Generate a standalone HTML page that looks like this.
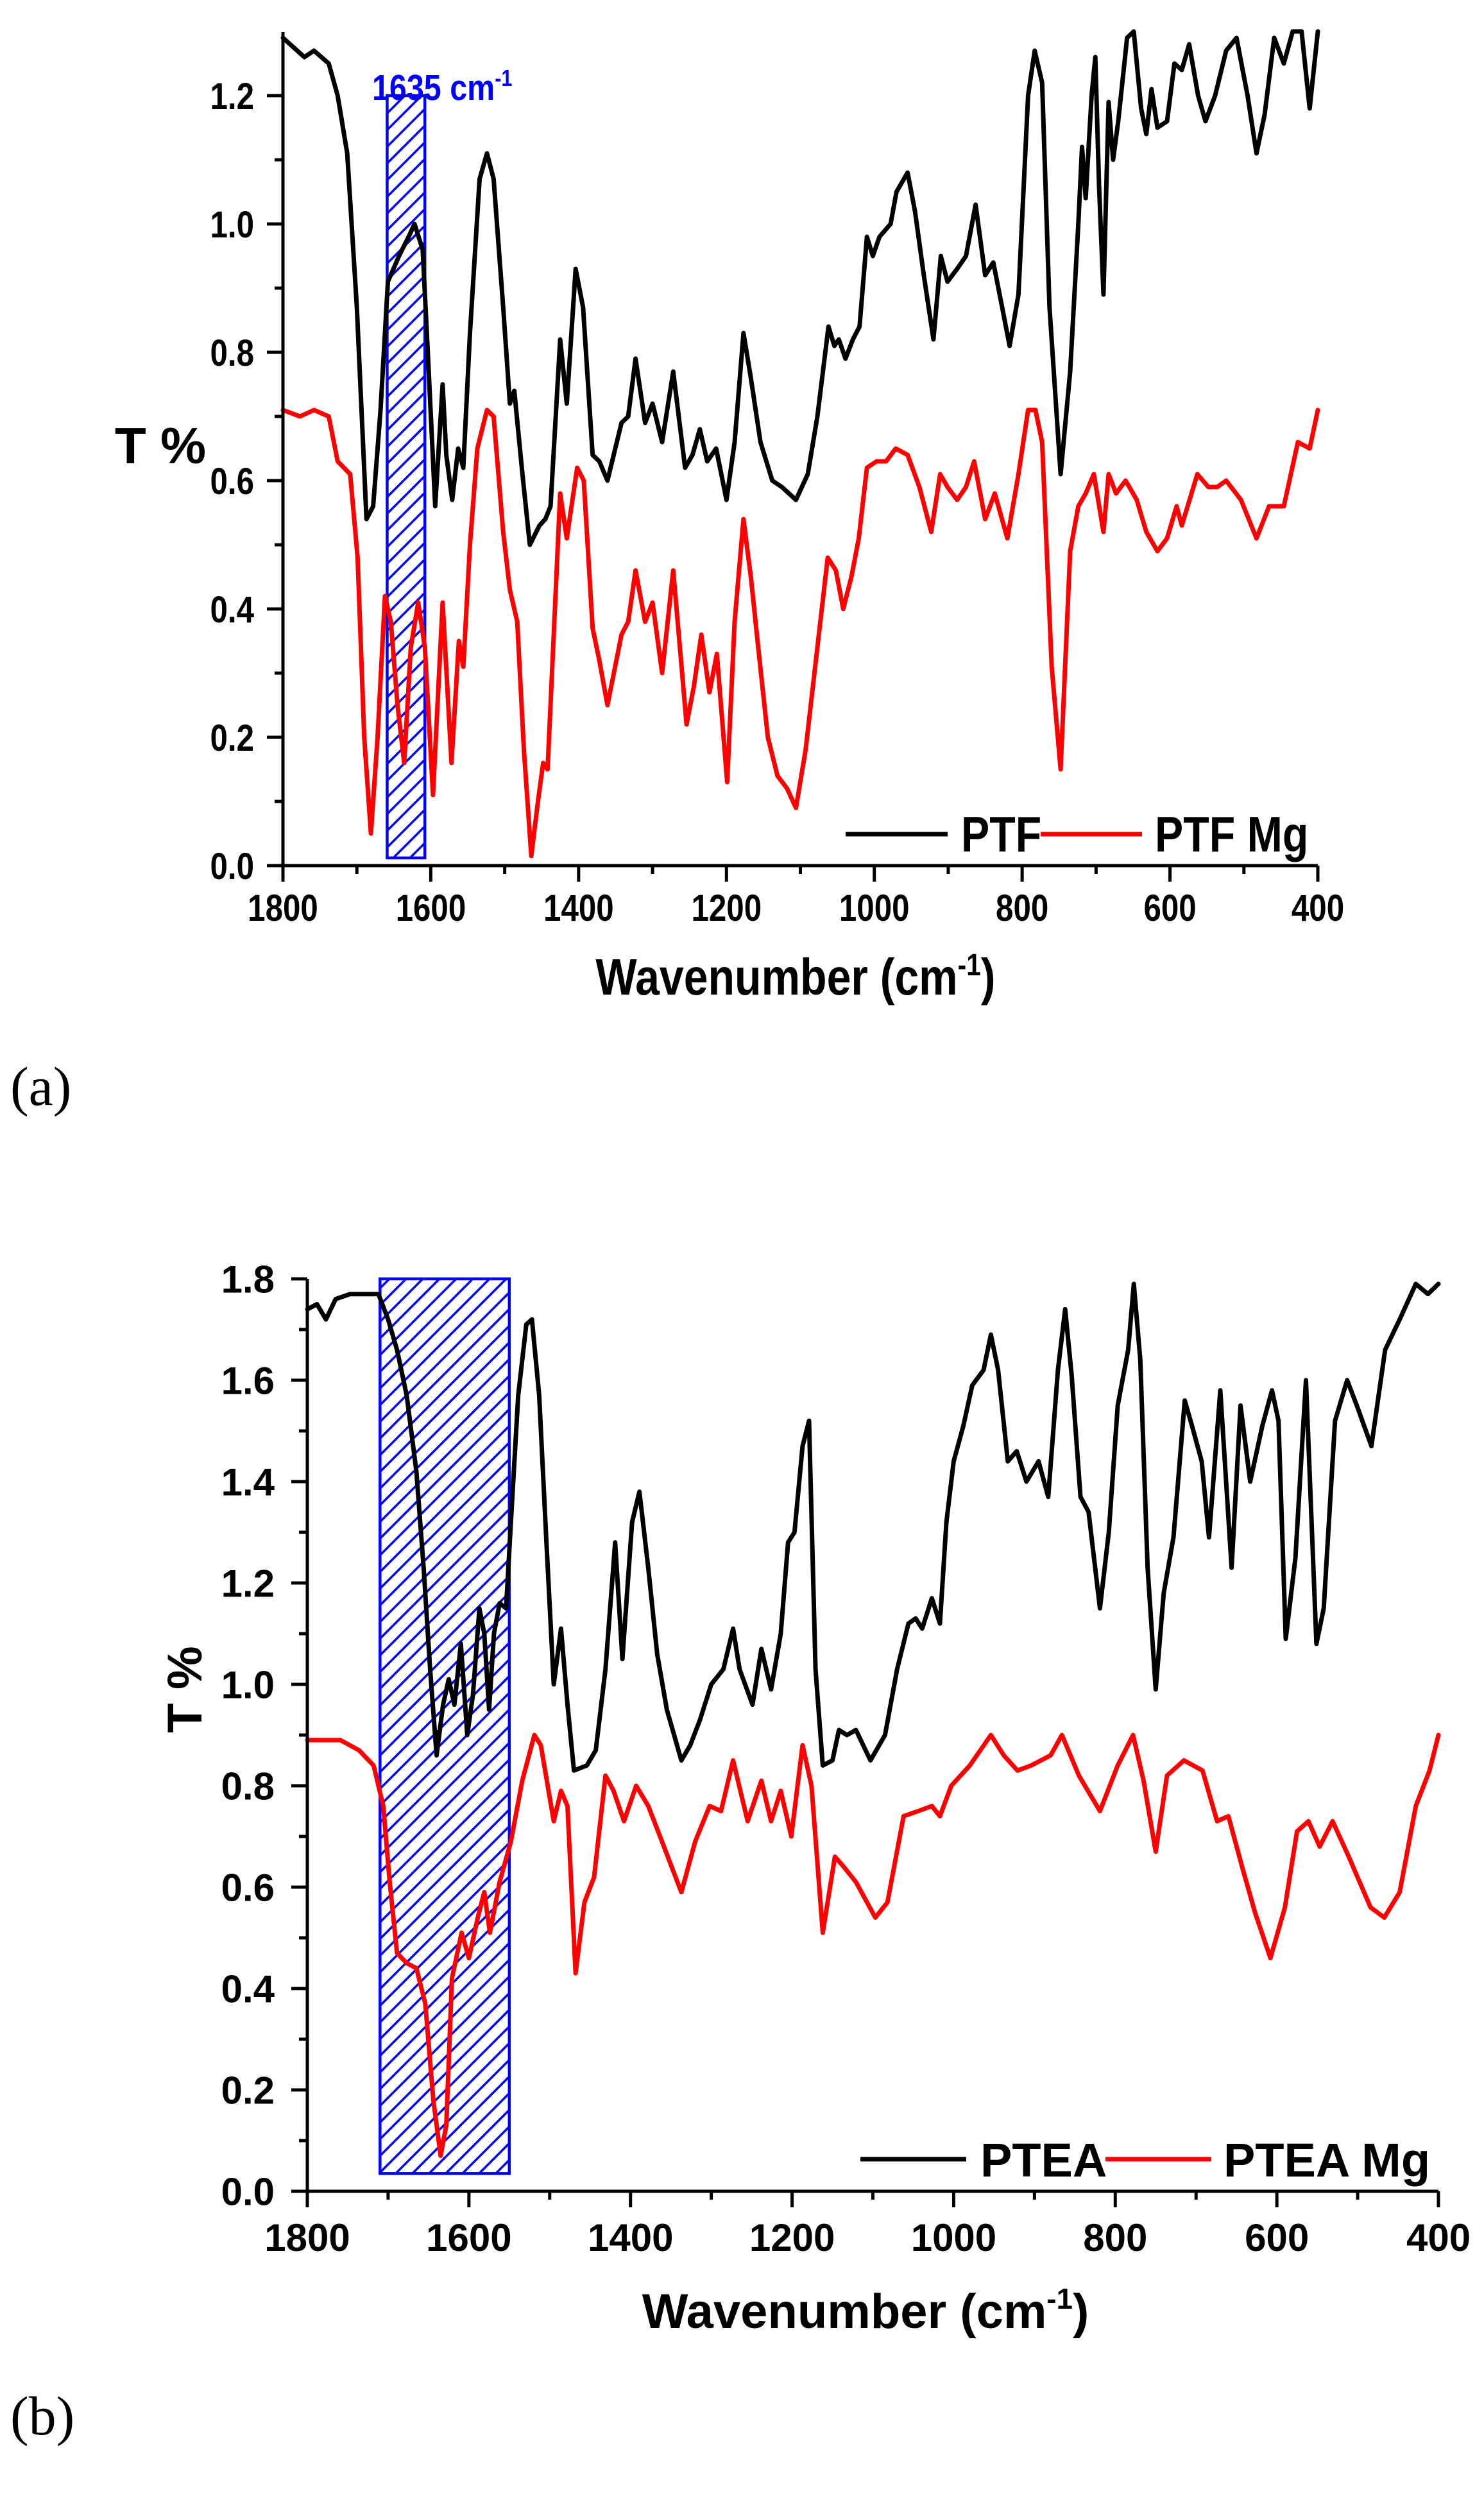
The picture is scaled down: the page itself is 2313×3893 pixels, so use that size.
<!DOCTYPE html>
<html><head><meta charset="utf-8"><style>
html,body{margin:0;padding:0;background:#fff;}
svg{display:block;}
text{font-family:"Liberation Sans",Arial,sans-serif;font-weight:bold;}
</style></head><body>
<svg id="fig" width="2313" height="3893" viewBox="0 0 2313 3893" xmlns="http://www.w3.org/2000/svg">
<defs>
<pattern id="hatch" patternUnits="userSpaceOnUse" width="26" height="26">
<path d="M-6,32 L32,-6 M-6,6 L6,-6 M20,32 L32,20" stroke="#0000ff" stroke-width="3.5"/>
</pattern>
</defs>
<g id="chartA"></g>
<g id="chartB"></g>
<text x="16" y="1722" style="font-family:'Liberation Serif',serif;font-weight:normal" font-size="86">(a)</text>
<text x="16" y="3794" style="font-family:'Liberation Serif',serif;font-weight:normal" font-size="86">(b)</text>
</svg>
<script>
// ---- Chart A data ----
const ptfWn=[1800,1771,1758,1738,1726,1713,1700,1687,1678,1668,1658,1643,1630,1622,1611,1604,1594,1584,1579,1571,1563,1556,1547,1534,1524,1515,1502,1493,1487,1476,1466,1453,1445,1438,1425,1416,1404,1394,1381,1372,1361,1342,1333,1323,1310,1300,1287,1272,1256,1246,1236,1226,1214,1200,1189,1177,1167,1154,1138,1125,1106,1090,1077,1062,1054,1048,1039,1029,1020,1010,1002,993,978,970,955,945,933,920,910,901,888,876,863,850,839,827,817,805,792,783,773,763,748,735,724,719,714,706,701,696,690,683,677,670,658,649,639,632,625,617,604,594,584,574,562,552,539,524,510,495,483,472,459,446,434,422,411,400];
const ptfT=[1.29,1.26,1.27,1.25,1.2,1.11,0.87,0.54,0.56,0.71,0.91,0.95,0.98,1.0,0.96,0.80,0.56,0.75,0.64,0.57,0.65,0.62,0.83,1.07,1.11,1.07,0.87,0.72,0.74,0.61,0.50,0.53,0.54,0.56,0.82,0.72,0.93,0.87,0.64,0.63,0.60,0.69,0.70,0.79,0.69,0.72,0.66,0.77,0.62,0.64,0.68,0.63,0.65,0.57,0.66,0.83,0.76,0.66,0.60,0.59,0.57,0.61,0.70,0.84,0.81,0.82,0.79,0.82,0.84,0.98,0.95,0.98,1.0,1.05,1.08,1.02,0.92,0.82,0.95,0.91,0.93,0.95,1.03,0.92,0.94,0.87,0.81,0.89,1.20,1.27,1.22,0.87,0.61,0.77,1.0,1.12,1.04,1.20,1.26,1.06,0.89,1.19,1.10,1.16,1.29,1.30,1.18,1.14,1.21,1.15,1.16,1.25,1.24,1.28,1.20,1.16,1.20,1.27,1.29,1.20,1.11,1.17,1.29,1.25,1.30,1.30,1.18,1.30];
const ptfMgWn=[1800,1777,1758,1738,1726,1709,1699,1690,1681,1672,1662,1654,1645,1636,1627,1617,1608,1597,1584,1572,1562,1556,1547,1537,1524,1515,1502,1493,1483,1474,1464,1455,1448,1442,1425,1416,1402,1393,1381,1372,1361,1342,1333,1323,1310,1300,1287,1272,1254,1244,1234,1223,1213,1199,1189,1177,1167,1157,1144,1131,1118,1106,1093,1077,1063,1052,1042,1031,1021,1010,997,984,971,955,939,923,911,901,888,876,865,850,837,820,805,792,782,773,760,748,735,724,714,703,690,683,673,660,645,632,617,604,591,584,563,548,536,524,504,483,466,446,427,411,400];
const ptfMgT=[0.71,0.70,0.71,0.70,0.63,0.61,0.48,0.20,0.05,0.20,0.42,0.38,0.25,0.16,0.34,0.41,0.34,0.11,0.41,0.16,0.35,0.31,0.50,0.65,0.71,0.70,0.52,0.43,0.38,0.18,0.015,0.10,0.16,0.15,0.58,0.51,0.62,0.60,0.37,0.32,0.25,0.36,0.38,0.46,0.38,0.41,0.30,0.46,0.22,0.28,0.36,0.27,0.33,0.13,0.38,0.54,0.45,0.34,0.20,0.14,0.12,0.09,0.18,0.34,0.48,0.46,0.40,0.45,0.51,0.62,0.63,0.63,0.65,0.64,0.59,0.52,0.61,0.59,0.57,0.59,0.63,0.54,0.58,0.51,0.61,0.71,0.71,0.66,0.31,0.15,0.49,0.56,0.58,0.61,0.52,0.61,0.58,0.60,0.57,0.52,0.49,0.51,0.56,0.53,0.61,0.59,0.59,0.60,0.57,0.51,0.56,0.56,0.66,0.65,0.71];
const aXTicks=[1800,1600,1400,1200,1000,800,600,400];
const aXTickLabels=["1800","1600","1400","1200","1000","800","600","400"];
const aYTicks=[0,0.2,0.4,0.6,0.8,1.0,1.2];
const aYTickLabels=["0.0","0.2","0.4","0.6","0.8","1.0","1.2"];
const aBand=[1659,1608,0.012,1.2];
const aLegend=["PTF","PTF Mg"];
// ---- Chart B data ----
const pteaWn=[1800,1788,1777,1765,1747,1730,1712,1700,1689,1677,1665,1656,1648,1640,1632,1625,1618,1610,1602,1595,1587,1581,1575,1569,1562,1554,1548,1539,1529,1522,1513,1504,1495,1486,1478,1470,1454,1443,1431,1419,1410,1398,1389,1378,1367,1355,1337,1326,1314,1300,1285,1273,1265,1249,1238,1226,1214,1205,1197,1187,1179,1171,1162,1150,1142,1132,1121,1103,1085,1070,1056,1047,1039,1027,1017,1009,1000,988,977,963,954,945,933,922,910,895,883,871,862,854,843,833,819,808,797,784,777,769,760,750,740,728,714,705,693,684,670,656,645,633,618,606,598,589,577,564,551,542,528,513,501,483,466,448,428,413,400];
const pteaT=[1.74,1.75,1.72,1.76,1.77,1.77,1.77,1.72,1.66,1.57,1.42,1.23,1.03,0.86,0.96,1.01,0.96,1.08,0.90,0.98,1.15,1.10,0.95,1.10,1.16,1.15,1.32,1.57,1.71,1.72,1.57,1.28,1.00,1.11,0.96,0.83,0.84,0.87,1.03,1.28,1.05,1.32,1.38,1.23,1.06,0.95,0.85,0.88,0.93,1.00,1.03,1.11,1.03,0.96,1.07,0.99,1.10,1.28,1.30,1.47,1.52,1.03,0.84,0.85,0.91,0.90,0.91,0.85,0.90,1.03,1.12,1.13,1.11,1.17,1.12,1.32,1.44,1.51,1.59,1.62,1.69,1.62,1.44,1.46,1.40,1.44,1.37,1.62,1.74,1.61,1.37,1.34,1.15,1.30,1.55,1.66,1.79,1.64,1.23,0.99,1.18,1.29,1.56,1.51,1.44,1.29,1.58,1.23,1.55,1.40,1.51,1.58,1.52,1.09,1.25,1.60,1.08,1.15,1.52,1.60,1.55,1.47,1.66,1.72,1.79,1.77,1.79];
const pteaMgWn=[1800,1759,1736,1718,1706,1698,1689,1677,1665,1654,1644,1635,1628,1621,1609,1600,1589,1581,1574,1562,1548,1534,1519,1511,1495,1486,1478,1468,1457,1445,1431,1421,1408,1393,1378,1361,1337,1320,1302,1288,1273,1255,1238,1226,1214,1201,1187,1176,1162,1147,1136,1121,1097,1082,1062,1044,1027,1017,1003,980,954,938,921,904,880,866,845,819,797,778,765,750,736,715,692,674,660,643,627,608,590,575,561,547,531,511,484,467,448,428,411,400];
const pteaMgT=[0.89,0.89,0.87,0.84,0.76,0.61,0.47,0.45,0.44,0.37,0.18,0.07,0.13,0.42,0.51,0.46,0.54,0.59,0.51,0.61,0.69,0.81,0.90,0.88,0.73,0.79,0.76,0.43,0.57,0.62,0.82,0.79,0.73,0.80,0.76,0.69,0.59,0.69,0.76,0.75,0.85,0.73,0.81,0.73,0.79,0.70,0.88,0.80,0.51,0.66,0.64,0.61,0.54,0.57,0.74,0.75,0.76,0.74,0.80,0.84,0.90,0.86,0.83,0.84,0.86,0.90,0.82,0.75,0.84,0.90,0.81,0.67,0.82,0.85,0.83,0.73,0.74,0.64,0.55,0.46,0.56,0.71,0.73,0.68,0.73,0.66,0.56,0.54,0.59,0.76,0.83,0.90];
const bXTicks=[1800,1600,1400,1200,1000,800,600,400];
const bXTickLabels=["1800","1600","1400","1200","1000","800","600","400"];
const bYTicks=[0,0.2,0.4,0.6,0.8,1.0,1.2,1.4,1.6,1.8];
const bYTickLabels=["0.0","0.2","0.4","0.6","0.8","1.0","1.2","1.4","1.6","1.8"];
const bBand=[1710,1550,0.035,1.8];
const bLegend=["PTEA","PTEA Mg"];

const NS="http://www.w3.org/2000/svg";
function mk(tag,parent,attrs){const e=document.createElementNS(NS,tag);for(const k in attrs)e.setAttribute(k,attrs[k]);parent.appendChild(e);return e;}

function drawChart(g,cfg){
  const sx=v=>cfg.x0+(1800-v)/1400*(cfg.x1-cfg.x0);
  const sy=v=>cfg.y0-v*cfg.pxPerUnit;
  const band=mk('rect',g,{x:sx(cfg.band[0]),y:sy(cfg.band[3]),width:sx(cfg.band[1])-sx(cfg.band[0]),height:sy(cfg.band[2])-sy(cfg.band[3]),fill:'url(#hatch)',stroke:'#0000ff','stroke-width':4.5});
  
  
  const series=[[cfg.wn1,cfg.t1,'#000','black-series'],[cfg.wn2,cfg.t2,'#ff0000','red-series']];
  series.forEach(s=>{
    let d='';s[0].forEach((w,i)=>{d+=(i?'L':'M')+sx(w).toFixed(1)+','+sy(s[1][i]).toFixed(1);});
    const p=mk('path',g,{d:d,fill:'none',stroke:s[2],'stroke-width':7,'stroke-linejoin':'round','stroke-linecap':'round'});
    
    
  });
  const ax=mk('path',g,{d:`M${cfg.x0},${cfg.yTop} L${cfg.x0},${cfg.y0} L${cfg.x1},${cfg.y0}`,fill:'none',stroke:'#000','stroke-width':5});
  
  
  for(let w=1800;w>=400;w-=100){
    const major=(w%200===0);
    const t=mk('line',g,{x1:sx(w),y1:cfg.y0,x2:sx(w),y2:cfg.y0+(major?25:13),stroke:'#000','stroke-width':5});
    
    
  }
  cfg.xt.forEach((w,i)=>{
    const tx=mk('text',g,{'text-anchor':'middle','font-size':cfg.fs,transform:`translate(${sx(w)},${cfg.xLabY}) scale(${cfg.cond},1)`});
    tx.textContent=cfg.xtl[i];
    
    
  });
  const n=Math.round(cfg.yMaxTick/0.1);
  for(let k=0;k<=n;k++){
    const v=k*0.1;const major=(k%2===0);
    const t=mk('line',g,{x1:cfg.x0,y1:sy(v),x2:cfg.x0-(major?25:13),y2:sy(v),stroke:'#000','stroke-width':5});
    
    
  }
  cfg.yt.forEach((v,i)=>{
    const tx=mk('text',g,{'text-anchor':'end','font-size':cfg.fs,transform:`translate(${cfg.yLabX},${sy(v)+cfg.fs*0.36}) scale(${cfg.cond},1)`});
    tx.textContent=cfg.ytl[i];
    
    
  });
  const L=cfg.leg;
  const l1=mk('line',g,{x1:L.l1[0],x2:L.l1[1],y1:L.ly,y2:L.ly,stroke:'#000','stroke-width':7});
  
  
  const t1=mk('text',g,{'font-size':L.fs,transform:`translate(${L.t1},${L.base}) scale(${cfg.cond},1)`});
  t1.textContent=cfg.legend[0];
  
  
  const l2=mk('line',g,{x1:L.l2[0],x2:L.l2[1],y1:L.ly,y2:L.ly,stroke:'#ff0000','stroke-width':7});
  
  
  const t2=mk('text',g,{'font-size':L.fs,transform:`translate(${L.t2},${L.base}) scale(${cfg.cond},1)`});
  t2.textContent=cfg.legend[1];
  
  
  const xt=mk('text',g,{'text-anchor':'middle','font-size':cfg.tfs,transform:`translate(${cfg.xTitle[0]},${cfg.xTitle[1]}) scale(${cfg.cond},1)`});
  xt.innerHTML='Wavenumber (cm<tspan dy="-30" font-size="'+(cfg.tfs*0.6)+'">-1</tspan><tspan dy="30">)</tspan>';
  
  
  const yt=mk('text',g,{'text-anchor':'middle','font-size':cfg.tfs,transform:cfg.yTitleT});
  yt.textContent='T %';
  
  
  return {sx,sy};
}

drawChart(document.getElementById('chartA'),{x0:441,x1:2054,y0:1349,yTop:50,pxPerUnit:1000,yMaxTick:1.2,
  wn1:ptfWn,t1:ptfT,wn2:ptfMgWn,t2:ptfMgT,band:aBand,xt:aXTicks,xtl:aXTickLabels,yt:aYTicks,ytl:aYTickLabels,
  fs:58,cond:0.85,xLabY:1435,yLabX:396,legend:aLegend,
  leg:{l1:[1318,1477],l2:[1622,1780],t1:1498,t2:1800,ly:1300,base:1327,fs:78},
  tfs:80,xTitle:[1240,1550],yTitleT:'translate(250,722)'});
const ann=mk('text',document.getElementById('chartA'),{'font-size':57,fill:'#0000ff',transform:'translate(580,156) scale(0.85,1)'});
ann.innerHTML='1635 cm<tspan dy="-22" font-size="36">-1</tspan>';



drawChart(document.getElementById('chartB'),{x0:479,x1:2242,y0:3415,yTop:1993,pxPerUnit:790,yMaxTick:1.8,
  wn1:pteaWn,t1:pteaT,wn2:pteaMgWn,t2:pteaMgT,band:bBand,xt:bXTicks,xtl:bXTickLabels,yt:bYTicks,ytl:bYTickLabels,
  fs:60,cond:1,xLabY:3508,yLabX:428,legend:bLegend,
  leg:{l1:[1341,1506],l2:[1723,1888],t1:1528,t2:1907,ly:3365,base:3392,fs:74},
  tfs:76,xTitle:[1349,3628],yTitleT:'translate(314,2633) rotate(-90)'});
</script>
</body></html>
